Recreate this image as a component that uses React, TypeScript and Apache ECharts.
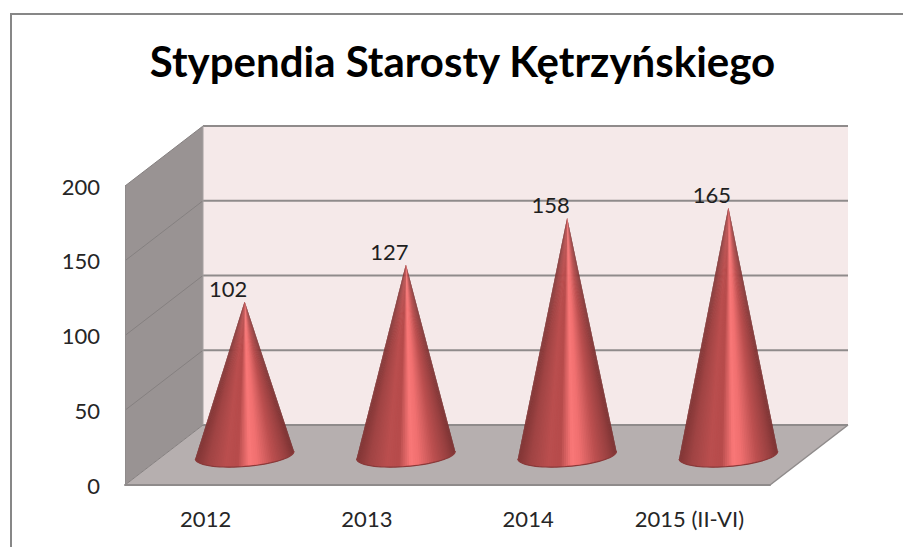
import React, { useEffect, useRef } from "react";
import * as echarts from "echarts";

const titleText = "Stypendia Starosty Kętrzyńskiego";
const categories = ["2012", "2013", "2014", "2015 (II-VI)"];
const values = [102, 127, 158, 165];
const yTicks = [0, 50, 100, 150, 200];

const DEPTH_X = 78;
const DEPTH_Y = -60;
const FONT = "Lato, Carlito, sans-serif";

const shadeStops: [number, number[]][] = [
  [0, [130, 54, 54]],
  [0.12, [160, 68, 68]],
  [0.3, [186, 78, 78]],
  [0.42, [182, 75, 75]],
  [0.54, [250, 120, 120]],
  [0.62, [240, 112, 112]],
  [0.78, [188, 80, 80]],
  [0.92, [152, 64, 64]],
  [1, [124, 52, 52]],
];

function shade(u: number) {
  for (let i = 1; i < shadeStops.length; i++) {
    const [p1, c1] = shadeStops[i];
    const [p0, c0] = shadeStops[i - 1];
    if (u <= p1) {
      const k = (u - p0) / (p1 - p0);
      return `rgb(${c0.map((c, j) => Math.round(c + (c1[j] - c) * k)).join(",")})`;
    }
  }
  return "rgb(124,52,52)";
}

const renderWalls = (params: any, api: any) => {
  const cs = params.coordSys;
  const x0 = cs.x;
  const x1 = cs.x + cs.width;
  const yOf = (v: number) => api.coord([0, v])[1];
  const base = yOf(0);
  const top = yOf(200);
  const poly = (points: number[][], fill: string) => ({
    type: "polygon",
    shape: { points },
    style: { fill, stroke: "none" },
  });
  const line = (a: number[], b: number[], stroke: string, lineWidth: number) => ({
    type: "line",
    shape: { x1: a[0], y1: a[1], x2: b[0], y2: b[1] },
    style: { stroke, lineWidth },
  });
  const children: any[] = [
    poly(
      [
        [x0 + DEPTH_X, top + DEPTH_Y],
        [x1 + DEPTH_X, top + DEPTH_Y],
        [x1 + DEPTH_X, base + DEPTH_Y],
        [x0 + DEPTH_X, base + DEPTH_Y],
      ],
      "#f5e9e9"
    ),
    poly(
      [
        [x0, top],
        [x0 + DEPTH_X, top + DEPTH_Y],
        [x0 + DEPTH_X, base + DEPTH_Y],
        [x0, base],
      ],
      "#999393"
    ),
    poly(
      [
        [x0, base],
        [x1, base],
        [x1 + DEPTH_X, base + DEPTH_Y],
        [x0 + DEPTH_X, base + DEPTH_Y],
      ],
      "#b6afaf"
    ),
  ];
  yTicks.forEach((t) => {
    const y = yOf(t);
    children.push(line([x0, y], [x0 + DEPTH_X, y + DEPTH_Y], "#858080", 1));
    children.push(line([x0 + DEPTH_X, y + DEPTH_Y], [x1 + DEPTH_X, y + DEPTH_Y], "#8f8b8b", 2));
  });
  children.push(line([x1, base], [x1 + DEPTH_X, base + DEPTH_Y], "#8f8b8b", 1.5));
  children.push(line([x0 + DEPTH_X, top + DEPTH_Y], [x0 + DEPTH_X, base + DEPTH_Y], "#a5a0a0", 1));
  return { type: "group", children };
};

const renderCone = (params: any, api: any) => {
  const i = api.value(0);
  const v = api.value(1);
  const foot = api.coord([i, 0]);
  const tipBase = api.coord([i, v]);
  const band = api.size([1, 0])[0];
  const cx = foot[0] + DEPTH_X / 2;
  const cy = foot[1] + DEPTH_Y / 2;
  const tipX = cx;
  const tipY = tipBase[1] + DEPTH_Y / 2 - 1;
  const rx = band * 0.307;
  const ry = 11.5;
  const rot = (-4.6 * Math.PI) / 180;
  const pt = (t: number) => {
    const ex = rx * Math.cos(t);
    const ey = ry * Math.sin(t);
    return [cx + ex * Math.cos(rot) - ey * Math.sin(rot), cy + ex * Math.sin(rot) + ey * Math.cos(rot)];
  };
  const N = 72;
  const children: any[] = [];
  for (let k = 0; k < N; k++) {
    const t0 = (Math.PI * k) / N;
    const t1 = k === N - 1 ? Math.PI : (Math.PI * (k + 2)) / N;
    const pts: number[][] = [[tipX, tipY]];
    for (let s = 0; s <= 3; s++) pts.push(pt(t0 + ((t1 - t0) * s) / 3));
    const u = (1 - Math.cos((Math.PI * (k + 0.5)) / N)) / 2; // 0 = right, 1 = left
    children.push({
      type: "polygon",
      shape: { points: pts },
      style: { fill: shade(1 - u), stroke: "none" },
    });
  }
  const rim: number[][] = [];
  for (let k = 0; k <= 40; k++) rim.push(pt((Math.PI * k) / 40));
  children.push({
    type: "polyline",
    shape: { points: rim },
    style: { fill: "none", stroke: "#8a3a3a", lineWidth: 1.2 },
  });
  children.push({
    type: "text",
    style: {
      x: tipX - 16.5,
      y: tipY - 13,
      text: String(v),
      fill: "#1f1f1f",
      font: `22px ${FONT}`,
      align: "center",
      verticalAlign: "middle",
    },
  });
  return { type: "group", children };
};

export default function App() {
  const ref = useRef<HTMLDivElement>(null);
  useEffect(() => {
    const chart = echarts.init(ref.current!, undefined, { renderer: "svg" });
    chart.setOption({
      animation: false,
      backgroundColor: "#ffffff",
      title: {
        text: titleText,
        left: 457.5,
        top: 35,
        textAlign: "center",
        textStyle: { fontFamily: FONT, fontWeight: "bold", fontSize: 42, color: "#000000" },
      },
      grid: { left: 125, right: 133, top: 186, bottom: 62 },
      xAxis: {
        type: "category",
        data: categories,
        z: 10,
        axisTick: { show: false },
        axisLine: { show: true, lineStyle: { color: "#8f8b8b", width: 2 } },
        axisLabel: { color: "#262626", fontFamily: FONT, fontSize: 22, margin: 22 },
      },
      yAxis: {
        type: "value",
        min: 0,
        max: 200,
        interval: 50,
        z: 10,
        splitLine: { show: false },
        axisTick: { show: false },
        axisLine: { show: true, lineStyle: { color: "#8f8b8b", width: 1 } },
        axisLabel: { color: "#262626", fontFamily: FONT, fontSize: 22, margin: 25, padding: [3, 0, 0, 0] },
      },
      graphic: [
        {
          type: "polyline",
          z: 0,
          shape: { points: [[11, 547], [11, 14], [903, 14]] },
          style: { fill: "none", stroke: "#878787", lineWidth: 2 },
        },
      ],
      series: [
        {
          type: "custom",
          z: 1,
          silent: true,
          renderItem: (p: any, api: any) => (p.dataIndex === 0 ? renderWalls(p, api) : null),
          data: [[0, 0]],
          encode: { x: 0, y: 1 },
        },
        {
          type: "custom",
          z: 3,
          renderItem: renderCone,
          data: values.map((v, i) => [i, v]),
          encode: { x: 0, y: 1 },
        },
      ],
    });
    return () => chart.dispose();
  }, []);
  return <div ref={ref} style={{ position: "absolute", left: 0, top: 0, width: 903, height: 547 }} />;
}
